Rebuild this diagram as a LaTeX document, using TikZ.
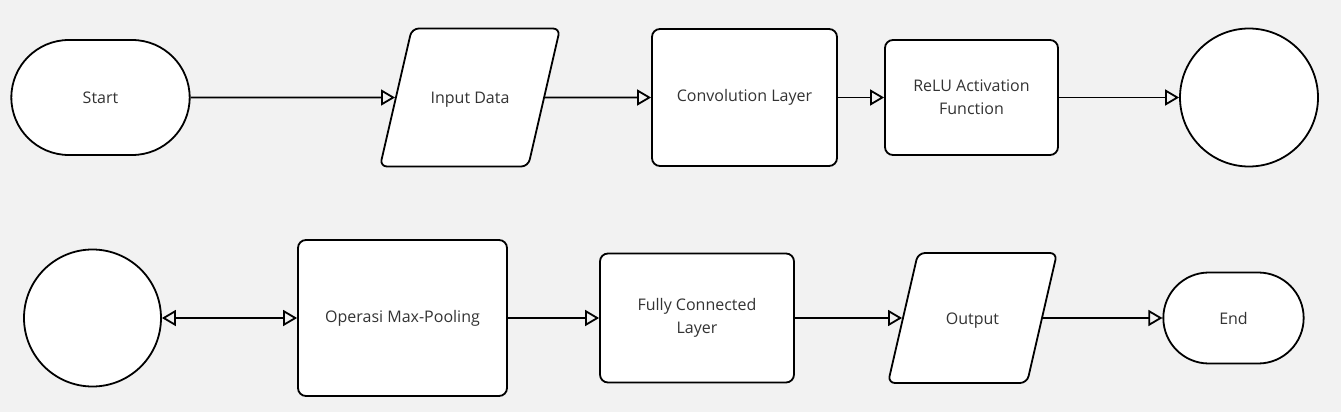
\documentclass[tikz,border=0pt]{standalone}
\usepackage{fontspec}
\setmainfont{Open Sans}
\usepackage{xcolor}
\usepackage{tikz}
\usetikzlibrary{positioning, arrows.meta, shapes.geometric, shapes.misc}
\definecolor{bgcol}{HTML}{F2F2F2}
\definecolor{txtcol}{HTML}{333333}
\tikzstyle{terminal} = [rounded rectangle, draw, fill=white, line width=1.8pt, text=txtcol, font=\fontsize{16}{23}\selectfont]
\tikzstyle{io} = [trapezium, trapezium left angle=77, trapezium right angle=103, trapezium stretches body, draw, fill=white, rounded corners=7pt, line width=1.8pt, text=txtcol, text height=13pt, text depth=1pt, font=\fontsize{16}{23}\selectfont]
\tikzstyle{process} = [rectangle, draw, fill=white, rounded corners=8pt, line width=1.8pt, text=txtcol, align=center, font=\fontsize{16}{23}\selectfont]
\tikzstyle{connector} = [circle, draw, fill=white, line width=1.8pt, minimum size=138pt]
\tikzstyle{line} = [draw, line width=1.8pt, -{Triangle[open, length=14pt, width=16pt]}]
\tikzstyle{both} = [draw, line width=1.8pt, {Triangle[open, length=14pt, width=16pt]}-{Triangle[open, length=14pt, width=16pt]}]

\begin{document}
\begin{tikzpicture}[x=1pt, y=1pt, node distance=200pt]
        \fill[bgcol] (0,0) rectangle (1341,-412);
        \useasboundingbox (0,0) rectangle (1341,-412);
        % Nodes, first row
        \node (start) [terminal, minimum width=185pt, minimum height=115pt] at (100.5,-97.5) {Start};
        \node (input) [io, right of=start, xshift=169.5pt, minimum width=180pt, inner ysep=62pt] {Input Data};
        \node (conv) [process, right of=input, xshift=74.5pt, minimum width=185pt, minimum height=137pt] {Convolution Layer};
        \node (relu) [process, right of=conv, xshift=27pt, minimum width=173pt, minimum height=115pt] {ReLU Activation\\Function};
        \node (con1) [connector, right of=relu, xshift=77.5pt] {};
        % Nodes, second row
        \node (con2) [connector, below of=start, xshift=-8pt, yshift=-20.5pt, minimum size=137pt] {};
        \node (pool) [process, right of=con2, xshift=110pt, minimum width=209pt, minimum height=156pt] {Operasi Max-Pooling};
        \node (fc) [process, right of=pool, xshift=94.5pt, minimum width=194pt, minimum height=129pt] {Fully Connected\\Layer};
        \node (output) [io, right of=fc, xshift=75.5pt, minimum width=169pt, inner ysep=58pt] {Output};
        \node (end) [terminal, right of=output, xshift=61pt, minimum width=147pt, minimum height=91pt] {End};
        % Edges
        \path [line] (start) -- (input);
        \path [line] (input) -- (conv);
        \path [line] (conv) -- (relu);
        \path [line] (relu) -- (con1);
        \path [both] (con2) -- (pool);
        \path [line] (pool) -- (fc);
        \path [line] (fc) -- (output);
        \path [line] (output) -- (end);
    \end{tikzpicture}
\end{document}
